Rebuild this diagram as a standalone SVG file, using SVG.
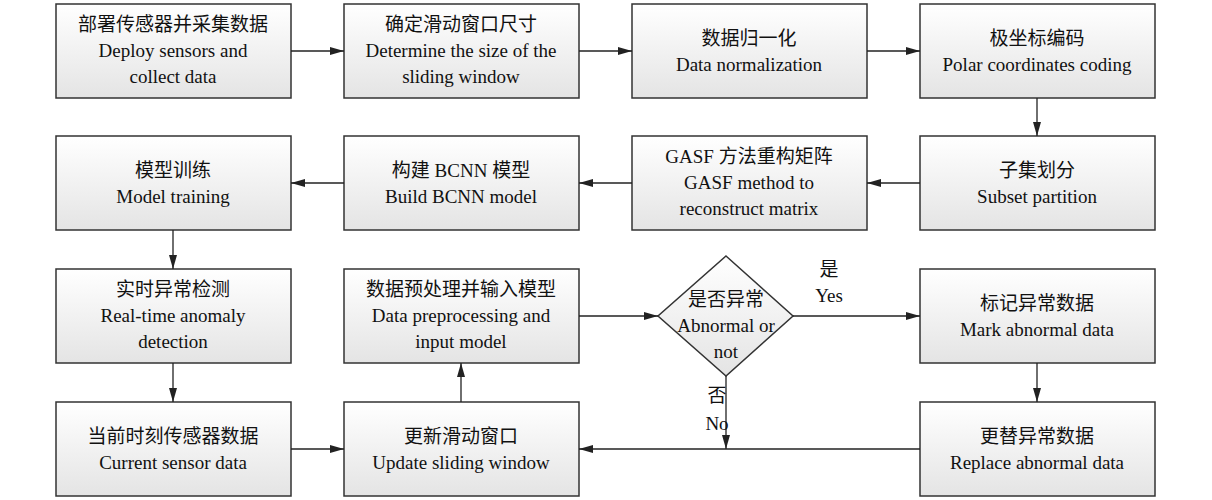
<svg xmlns="http://www.w3.org/2000/svg" width="1212" height="500" viewBox="0 0 1212 500">
<style>
.b{stroke:#333;stroke-width:1.5;fill:url(#g)}
text{font-family:"Liberation Serif","Noto Sans CJK SC",serif;font-size:19px;fill:#111;text-anchor:middle}
.c{stroke:#222;stroke-width:1.3;fill:none;marker-end:url(#a)}
</style>
<defs>
<linearGradient id="g" x1="0" y1="0" x2="0" y2="1"><stop offset="0" stop-color="#fff"/><stop offset="1" stop-color="#e4e4e4"/></linearGradient>
<marker id="a" markerWidth="14" markerHeight="8" refX="14" refY="4" orient="auto" markerUnits="userSpaceOnUse"><path d="M0,0L14,4L0,8z" fill="#222"/></marker>
</defs>
<g id="n1"><rect class="b" x="56" y="4" width="235" height="94"/><text x="173" y="31">部署传感器并采集数据</text><text x="173" y="57">Deploy sensors and</text><text x="173" y="83">collect data</text></g>
<g id="n2"><rect class="b" x="344" y="4" width="235" height="94"/><text x="461" y="31">确定滑动窗口尺寸</text><text x="461" y="57">Determine the size of the</text><text x="461" y="83">sliding window</text></g>
<g id="n3"><rect class="b" x="632" y="4" width="235" height="94"/><text x="749" y="45">数据归一化</text><text x="749" y="71">Data normalization</text></g>
<g id="n4"><rect class="b" x="920" y="4" width="235" height="94"/><text x="1037" y="45">极坐标编码</text><text x="1037" y="71">Polar coordinates coding</text></g>
<g id="n5"><rect class="b" x="920" y="136" width="235" height="94"/><text x="1037" y="177">子集划分</text><text x="1037" y="203">Subset partition</text></g>
<g id="n6"><rect class="b" x="632" y="136" width="235" height="94"/><text x="749" y="163">GASF 方法重构矩阵</text><text x="749" y="189">GASF method to</text><text x="749" y="215">reconstruct matrix</text></g>
<g id="n7"><rect class="b" x="344" y="136" width="235" height="94"/><text x="461" y="177">构建 BCNN 模型</text><text x="461" y="203">Build BCNN model</text></g>
<g id="n8"><rect class="b" x="56" y="136" width="235" height="94"/><text x="173" y="177">模型训练</text><text x="173" y="203">Model training</text></g>
<g id="n9"><rect class="b" x="56" y="269" width="235" height="94"/><text x="173" y="296">实时异常检测</text><text x="173" y="322">Real-time anomaly</text><text x="173" y="348">detection</text></g>
<g id="n10"><rect class="b" x="344" y="269" width="235" height="94"/><text x="461" y="296">数据预处理并输入模型</text><text x="461" y="322">Data preprocessing and</text><text x="461" y="348">input model</text></g>
<g id="n11"><polygon class="b" points="726,256 793,316 726,376 658,316"/><text x="726" y="306">是否异常</text><text x="726" y="332">Abnormal or</text><text x="726" y="358">not</text></g>
<g id="n12"><rect class="b" x="920" y="269" width="235" height="94"/><text x="1037" y="310">标记异常数据</text><text x="1037" y="336">Mark abnormal data</text></g>
<g id="n13"><rect class="b" x="920" y="402" width="235" height="94"/><text x="1037" y="443">更替异常数据</text><text x="1037" y="469">Replace abnormal data</text></g>
<g id="n14"><rect class="b" x="344" y="402" width="235" height="94"/><text x="461" y="443">更新滑动窗口</text><text x="461" y="469">Update sliding window</text></g>
<g id="n15"><rect class="b" x="56" y="402" width="235" height="94"/><text x="173" y="443">当前时刻传感器数据</text><text x="173" y="469">Current sensor data</text></g>
<g id="connectors">
<path class="c" d="M291,51H344"/>
<path class="c" d="M579,51H632"/>
<path class="c" d="M867,51H920"/>
<path class="c" d="M1037,98V136"/>
<path class="c" d="M920,183H867"/>
<path class="c" d="M632,183H579"/>
<path class="c" d="M344,183H291"/>
<path class="c" d="M173,230V269"/>
<path class="c" d="M173,363V402"/>
<path class="c" d="M291,449H344"/>
<path class="c" d="M461,402V363"/>
<path class="c" d="M579,316H658"/>
<path class="c" d="M793,316H920"/>
<path class="c" d="M1037,363V402"/>
<path class="c" d="M726,376V449"/>
<path class="c" d="M920,449H579"/>
</g>
<text x="829" y="276">是</text><text x="829" y="302">Yes</text>
<text x="717" y="402">否</text><text x="717" y="430">No</text>
</svg>
